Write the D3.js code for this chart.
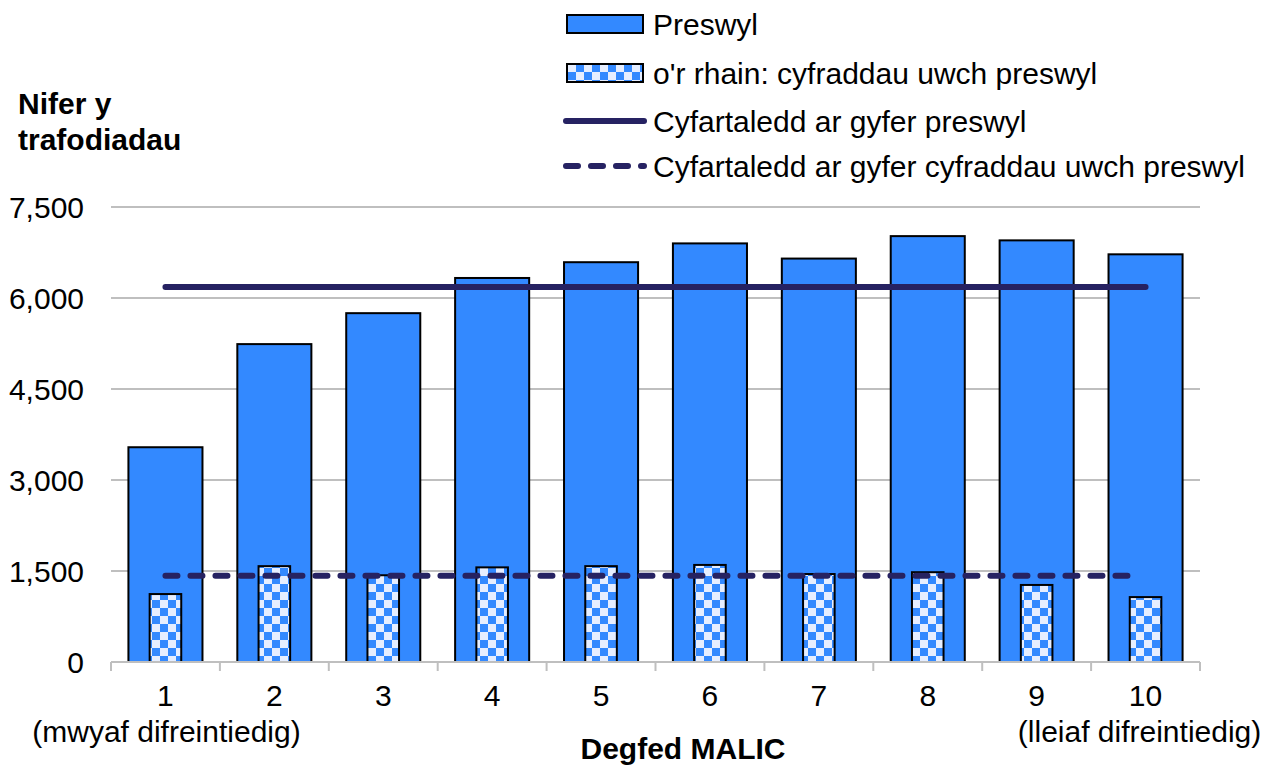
<!DOCTYPE html>
<meta charset="utf-8">
<title>Degfed MALIC</title>
<script src="https://d3js.org/d3.v7.min.js"></script>
<style>
	body { margin: 0; font-family: "Liberation Sans", Arial, sans-serif; background: #fff; }
	svg text { fill: #000; }
</style>
<div id="chart"></div>
<script>

var categories = ["1", "2", "3", "4", "5", "6", "7", "8", "9", "10"];
var subLabels = ["(mwyaf difreintiedig)", "", "", "", "", "", "", "", "", "(lleiaf difreintiedig)"];
var preswyl = [3540, 5240, 5750, 6330, 6590, 6900, 6650, 7020, 6950, 6720];
var uwchPreswyl = [1120, 1580, 1430, 1560, 1580, 1600, 1450, 1480, 1270, 1070];
var avgPreswyl = 6180;
var avgUwch = 1420;
var yTicks = [0, 1500, 3000, 4500, 6000, 7500];
var legendLabels = ["Preswyl", "o'r rhain: cyfraddau uwch preswyl", "Cyfartaledd ar gyfer preswyl", "Cyfartaledd ar gyfer cyfraddau uwch preswyl"];

var width = 1273, height = 767;
var margin = {left: 111, right: 73, top: 207, bottom: 105};
var blue = "#3389ff", light = "#e6eeff", navy = "#262262";
var fs = 30;

var svg = d3.select("#chart").append("svg")
	.attr("width", width)
	.attr("height", height);

// chequer pattern
var pat = svg.append("defs").append("pattern")
	.attr("id", "chk")
	.attr("patternUnits", "userSpaceOnUse")
	.attr("width", 16).attr("height", 16);
pat.append("rect").attr("width", 16).attr("height", 16).attr("fill", light);
pat.append("rect").attr("width", 8).attr("height", 8).attr("fill", blue);
pat.append("rect").attr("x", 8).attr("y", 8).attr("width", 8).attr("height", 8).attr("fill", blue);

var x = d3.scaleBand().domain(categories).range([margin.left, width - margin.right]).padding(0);
var y = d3.scaleLinear().domain([0, 7500]).range([height - margin.bottom, margin.top]);

// gridlines
svg.append("g")
	.selectAll("line")
	.data(yTicks.slice(1))
	.enter().append("line")
	.attr("x1", margin.left).attr("x2", width - margin.right)
	.attr("y1", function(d){return y(d)}).attr("y2", function(d){return y(d)})
	.attr("stroke", "#bfbfbf").attr("stroke-width", 2);

// y labels
svg.append("g")
	.selectAll("text")
	.data(yTicks)
	.enter().append("text")
	.attr("x", 84)
	.attr("y", function(d){return y(d) + 11})
	.attr("text-anchor", "end")
	.attr("font-size", fs)
	.text(function(d){return d3.format(",")(d)});

// bars
var bw = x.bandwidth() * 0.68;
svg.append("g")
	.selectAll("rect")
	.data(preswyl)
	.enter().append("rect")
	.attr("x", function(d, i){return x(categories[i]) + (x.bandwidth() - bw) / 2})
	.attr("y", function(d){return y(d)})
	.attr("width", bw)
	.attr("height", function(d){return y(0) - y(d)})
	.attr("fill", blue)
	.attr("stroke", "#000").attr("stroke-width", 2);

var iw = x.bandwidth() * 0.29;
svg.append("g")
	.selectAll("rect")
	.data(uwchPreswyl)
	.enter().append("rect")
	.attr("x", function(d, i){return x(categories[i]) + (x.bandwidth() - iw) / 2})
	.attr("y", function(d){return y(d)})
	.attr("width", iw)
	.attr("height", function(d){return y(0) - y(d)})
	.attr("fill", "url(#chk)")
	.attr("stroke", "#000").attr("stroke-width", 2);

// x axis
var xa = svg.append("g");
xa.append("line")
	.attr("x1", margin.left).attr("x2", width - margin.right)
	.attr("y1", y(0)).attr("y2", y(0))
	.attr("stroke", "#bfbfbf").attr("stroke-width", 2);
xa.selectAll(".tk")
	.data(categories.concat(["end"]))
	.enter().append("line")
	.attr("x1", function(d, i){return margin.left + i * x.bandwidth()})
	.attr("x2", function(d, i){return margin.left + i * x.bandwidth()})
	.attr("y1", y(0)).attr("y2", y(0) + 9)
	.attr("stroke", "#bfbfbf").attr("stroke-width", 2);
xa.selectAll(".cat")
	.data(categories)
	.enter().append("text")
	.attr("x", function(d){return x(d) + x.bandwidth() / 2})
	.attr("y", 706)
	.attr("text-anchor", "middle")
	.attr("font-size", fs)
	.text(function(d){return d});
xa.selectAll(".sub")
	.data(subLabels)
	.enter().append("text")
	.attr("x", function(d, i){return x(categories[i]) + x.bandwidth() / 2 + (i === 9 ? -6 : 1)})
	.attr("y", 742)
	.attr("text-anchor", "middle")
	.attr("font-size", fs)
	.text(function(d){return d});

// average lines
var lx1 = x(categories[0]) + x.bandwidth() / 2;
var lx2 = x(categories[categories.length - 1]) + x.bandwidth() / 2;
svg.append("line")
	.attr("x1", lx1).attr("x2", lx2)
	.attr("y1", y(avgPreswyl)).attr("y2", y(avgPreswyl))
	.attr("stroke", navy).attr("stroke-width", 6).attr("stroke-linecap", "round");
svg.append("line")
	.attr("x1", lx1).attr("x2", lx2 - 8)
	.attr("y1", y(avgUwch)).attr("y2", y(avgUwch))
	.attr("stroke", navy).attr("stroke-width", 6).attr("stroke-linecap", "round")
	.attr("stroke-dasharray", "12 13");

// axis titles
svg.append("text")
	.attr("x", 18).attr("y", 114)
	.attr("font-size", fs).attr("font-weight", "bold")
	.text("Nifer y");
svg.append("text")
	.attr("x", 18).attr("y", 150)
	.attr("font-size", fs).attr("font-weight", "bold")
	.text("trafodiadau");
svg.append("text")
	.attr("x", 683).attr("y", 759)
	.attr("text-anchor", "middle")
	.attr("font-size", fs).attr("font-weight", "bold")
	.text("Degfed MALIC");

// legend
var lg = svg.append("g");
var rowY = [24, 73, 121, 166];
lg.append("rect").attr("x", 567).attr("y", rowY[0] - 9).attr("width", 76).attr("height", 18)
	.attr("fill", blue).attr("stroke", "#000").attr("stroke-width", 2);
lg.append("rect").attr("x", 567).attr("y", rowY[1] - 9).attr("width", 76).attr("height", 18)
	.attr("fill", "url(#chk)").attr("stroke", "#000").attr("stroke-width", 2);
lg.append("line").attr("x1", 566).attr("x2", 644).attr("y1", rowY[2]).attr("y2", rowY[2])
	.attr("stroke", navy).attr("stroke-width", 6).attr("stroke-linecap", "round");
lg.append("line").attr("x1", 566).attr("x2", 644).attr("y1", rowY[3]).attr("y2", rowY[3])
	.attr("stroke", navy).attr("stroke-width", 6).attr("stroke-linecap", "round")
	.attr("stroke-dasharray", "12 13");
lg.selectAll("text")
	.data(legendLabels)
	.enter().append("text")
	.attr("x", 653)
	.attr("y", function(d, i){return rowY[i] + 11})
	.attr("font-size", fs)
	.text(function(d){return d});

</script>
